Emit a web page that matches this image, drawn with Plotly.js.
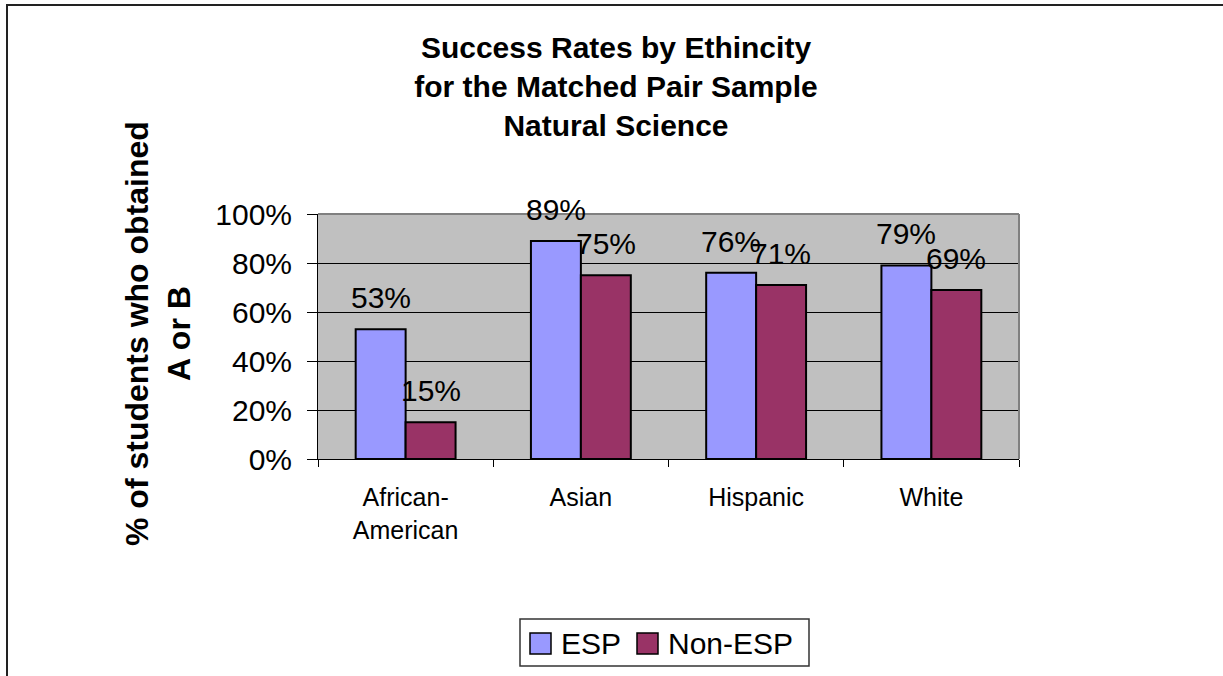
<!DOCTYPE html>
<html>
<head>
<meta charset="utf-8">
<script src="https://cdn.plot.ly/plotly-3.0.1.min.js"></script>
<style>
  html, body { margin: 0; padding: 0; background: #fff; }
  #chart { width: 1223px; height: 676px; }
</style>
</head>
<body>
<div id="chart"></div>
<script>
// Categories and series values (share of students with A or B)
const categories = ['African-<br>American', 'Asian', 'Hispanic', 'White'];
const espValues = [0.53, 0.89, 0.76, 0.79];
const nonEspValues = [0.15, 0.75, 0.71, 0.69];
const seriesNames = ['ESP', 'Non-ESP'];
const seriesColors = ['#9999FF', '#993366'];
const yTickValues = [0, 0.2, 0.4, 0.6, 0.8, 1.0];

const FONT = '"Liberation Sans", Arial, Helvetica, sans-serif';

// Plot-area geometry in pixels
const W = 1223, H = 676;
const L = 318, R = 1019, T = 214, B = 459;
const pw = R - L, ph = B - T;
const px = v => (v - L) / pw;      // pixel x -> paper x
const py = v => (B - v) / ph;      // pixel y -> paper y

const BARGAP = 0.43;
const barHalf = (1 - BARGAP) / 4;  // half the width of one bar, in category units

const series = [espValues, nonEspValues];

const traces = series.map((vals, s) => ({
  type: 'bar',
  name: seriesNames[s],
  x: categories,
  y: vals,
  marker: { color: seriesColors[s], line: { color: '#000', width: 2 } },
  hoverinfo: 'skip',
  showlegend: false
}));

// Value labels above each bar
const annotations = [];
series.forEach((vals, s) => {
  vals.forEach((v, i) => {
    annotations.push({
      xref: 'x', yref: 'y',
      x: i + (s === 0 ? -barHalf : barHalf),
      y: v,
      text: Math.round(v * 100) + '%',
      showarrow: false,
      xanchor: 'center', yanchor: 'bottom',
      yshift: 13,
      font: { family: FONT, size: 30, color: '#000' }
    });
  });
});

// Y axis title
annotations.push({
  xref: 'paper', yref: 'paper',
  x: px(158), y: py(334),
  text: '<b>% of students who obtained<br>A or B</b>',
  textangle: -90,
  showarrow: false,
  xanchor: 'center', yanchor: 'middle',
  font: { family: FONT, size: 32, color: '#000' }
});

// Legend entries
const legendItems = [
  { sw: [530, 551], tx: 559 },
  { sw: [637, 658], tx: 666 }
];
const shapes = [];
legendItems.forEach((it, s) => {
  shapes.push({
    type: 'rect', xref: 'paper', yref: 'paper', layer: 'above',
    x0: px(it.sw[0]), x1: px(it.sw[1]), y0: py(654), y1: py(633),
    fillcolor: traces[s].marker.color,
    line: { color: '#000', width: 1.5 }
  });
  annotations.push({
    xref: 'paper', yref: 'paper',
    x: px(it.tx), y: py(643.5),
    text: traces[s].name,
    showarrow: false,
    xanchor: 'left', yanchor: 'middle',
    font: { family: FONT, size: 30, color: '#000' }
  });
});

// Legend frame
shapes.push({
  type: 'rect', xref: 'paper', yref: 'paper', layer: 'above',
  x0: px(520), x1: px(809), y0: py(666), y1: py(619),
  line: { color: '#333', width: 1.5 }
});

// Plot area top and right border
shapes.push({
  type: 'line', xref: 'paper', yref: 'paper', layer: 'above',
  x0: 0, x1: 1, y0: 1, y1: 1, line: { color: '#808080', width: 2 }
});
shapes.push({
  type: 'line', xref: 'paper', yref: 'paper', layer: 'above',
  x0: 1, x1: 1, y0: 0, y1: 1, line: { color: '#808080', width: 2 }
});

// Outer chart frame (left and top edges visible)
shapes.push({
  type: 'rect', xref: 'paper', yref: 'paper', layer: 'above',
  x0: px(7), x1: px(W + 40), y0: py(H + 40), y1: py(5),
  line: { color: '#222', width: 2 }
});

const layout = {
  width: W, height: H,
  margin: { l: L, r: W - R, t: T, b: H - B, pad: 0 },
  paper_bgcolor: '#fff',
  plot_bgcolor: '#C0C0C0',
  font: { family: FONT, color: '#000' },
  showlegend: false,
  barmode: 'group',
  bargap: BARGAP,
  bargroupgap: 0,
  title: {
    text: '<b>Success Rates by Ethincity<br>for the Matched Pair Sample<br>Natural Science</b>',
    font: { family: FONT, size: 30, color: '#000' },
    xref: 'container', yref: 'container',
    x: 616 / W, xanchor: 'center',
    y: 1 - 58 / H, yanchor: 'top'
  },
  xaxis: {
    type: 'category',
    tickson: 'boundaries',
    ticks: 'outside', ticklen: 7, tickwidth: 1, tickcolor: '#000',
    ticklabelstandoff: 16,
    showline: true, linecolor: '#000', linewidth: 1,
    showgrid: false, zeroline: false,
    tickfont: { family: FONT, size: 25, color: '#000' },
    fixedrange: true
  },
  yaxis: {
    range: [0, 1],
    tickvals: yTickValues,
    tickformat: '.0%',
    ticks: 'outside', ticklen: 10, tickwidth: 1, tickcolor: '#000',
    ticklabelstandoff: 9,
    showline: true, linecolor: '#000', linewidth: 1,
    showgrid: true, gridcolor: '#000', gridwidth: 1,
    zeroline: false,
    tickfont: { family: FONT, size: 30, color: '#000' },
    fixedrange: true
  },
  annotations: annotations,
  shapes: shapes
};

Plotly.newPlot('chart', traces, layout, { staticPlot: true, displayModeBar: false });
</script>
</body>
</html>
